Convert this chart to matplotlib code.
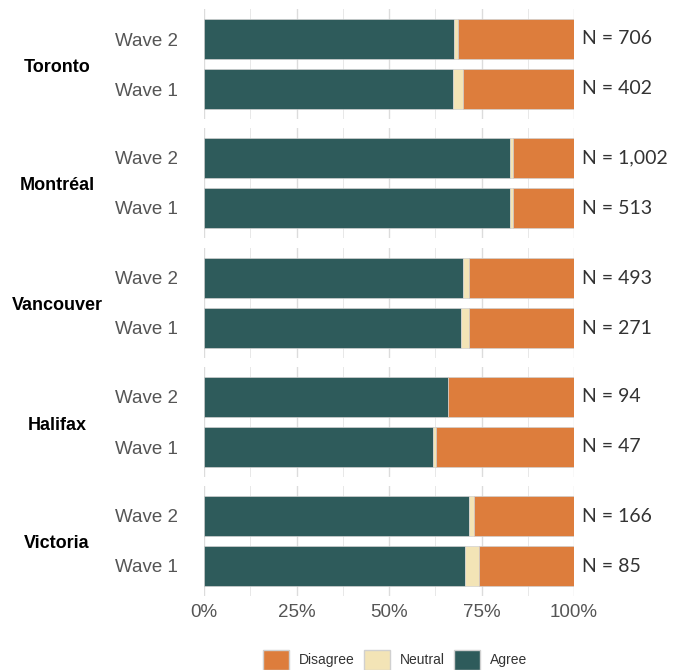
import numpy as np
import matplotlib.pyplot as plt
from matplotlib.patches import Patch

cities = ["Toronto", "Montréal", "Vancouver", "Halifax", "Victoria"]
waves = ["Wave 1", "Wave 2"]

# percent per city, [wave 1, wave 2]
agree = [[67.4, 67.5], [82.6, 82.8], [69.5, 70.1], [61.8, 66.0], [70.6, 71.7]]
neutral = [[2.7, 1.2], [1.0, 0.6], [2.0, 1.6], [1.0, 0.0], [3.6, 1.2]]
disagree = [[29.9, 31.3], [16.4, 16.6], [28.5, 28.3], [37.2, 34.0], [25.8, 27.1]]
n_resp = [[402, 706], [513, 1002], [271, 493], [47, 94], [85, 166]]

c_agree = "#2E5B5B"
c_neutral = "#F3E4B6"
c_disagree = "#DD7D3C"
edge = "#D0D0D0"

W, H = 673, 670
fig = plt.figure(figsize=(W / 100, H / 100), dpi=100)

left, right = 204, 574
panel_h = 110
panel_tops = [9, 128, 248, 367, 486]

for i, city in enumerate(cities):
    top = panel_tops[i]
    ax = fig.add_axes([left / W, 1 - (top + panel_h) / H, (right - left) / W, panel_h / H])
    y = np.arange(len(waves))
    a = np.array(agree[i])
    nu = np.array(neutral[i])
    d = np.array(disagree[i])
    ax.barh(y, a, height=0.8, color=c_agree, edgecolor=edge, linewidth=0.5, zorder=3)
    ax.barh(y, nu, left=a, height=0.8, color=c_neutral, edgecolor=edge, linewidth=0.5, zorder=3)
    ax.barh(y, d, left=a + nu, height=0.8, color=c_disagree, edgecolor=edge, linewidth=0.5, zorder=3)

    ax.set_xlim(0, 100)
    ax.set_ylim(-0.6, 1.6)
    ax.set_xticks([0, 25, 50, 75, 100])
    ax.set_xticks([12.5, 37.5, 62.5, 87.5], minor=True)
    ax.grid(axis="x", which="major", color="#DCDCDC", linewidth=1.0, zorder=0)
    ax.grid(axis="x", which="minor", color="#E8E8E8", linewidth=0.7, zorder=0)
    ax.set_yticks(y)
    ax.set_yticklabels(waves, fontsize=13.5, color="#555555", family="Liberation Sans")
    ax.tick_params(axis="y", length=0, pad=18.5)
    ax.tick_params(axis="x", which="both", length=0)
    for s in ax.spines.values():
        s.set_visible(False)
    if i < len(cities) - 1:
        ax.set_xticklabels([])
    else:
        ax.set_xticklabels(["0%", "25%", "50%", "75%", "100%"], fontsize=13.5,
                           color="#555555", family="Liberation Sans")
        ax.tick_params(axis="x", pad=6)

    for j in range(len(waves)):
        ax.text(102.2, y[j], f"N = {n_resp[i][j]:,}", va="center", ha="left",
                fontsize=14, color="#333333", family="Lato", clip_on=False)

    fig.text(57 / W, 1 - (top + panel_h / 2 + 3) / H, city, ha="center", va="center",
             fontsize=13, fontweight="bold", color="black", family="Liberation Sans")

handles = [Patch(facecolor=c_disagree, edgecolor=edge, label="Disagree"),
           Patch(facecolor=c_neutral, edgecolor=edge, label="Neutral"),
           Patch(facecolor=c_agree, edgecolor=edge, label="Agree")]
fig.legend(handles=handles, ncol=3, loc="center", bbox_to_anchor=(395 / W, 1 - 660 / H),
           frameon=False, prop={"family": "Liberation Sans", "size": 10},
           handlelength=1.87, handleheight=1.87, handletextpad=0.72, columnspacing=0.65,
           labelcolor="#333333")

fig.savefig("out.png", dpi=100)
